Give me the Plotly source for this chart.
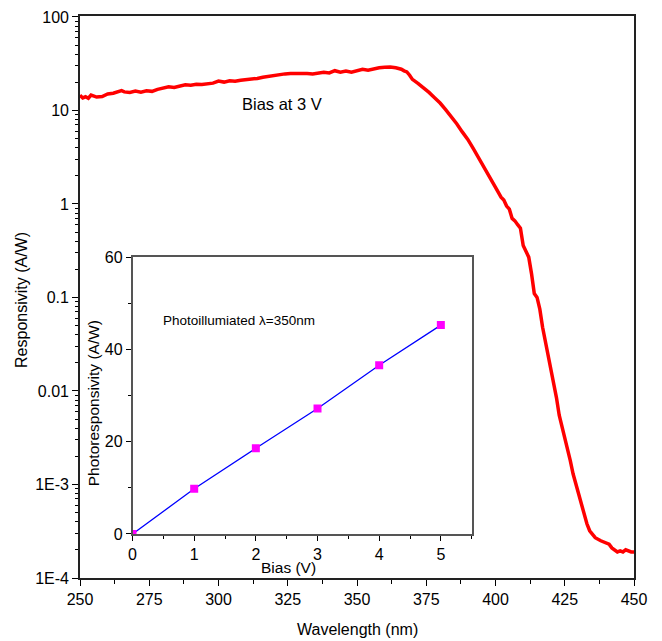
import plotly.graph_objects as go

# Main spectrum: wavelength (nm) vs responsivity (A/W), bias 3 V
wavelength = [250, 251, 252, 253, 254, 255, 256, 258, 260, 262, 264, 265, 266, 268, 270,
              272, 274, 276, 278, 280, 282, 284, 286, 288, 290, 292, 294, 296, 298, 300,
              302, 304, 306, 308, 310, 312, 314, 316, 318, 320, 322, 324, 326, 328, 330,
              332, 334, 336, 338, 340, 342, 344, 346, 348, 350, 352, 354, 356, 358, 360,
              362, 364, 366, 367, 368, 369, 370, 372, 374, 376, 378, 380, 382, 384, 386,
              388, 390, 392, 394, 396, 398, 400, 402, 403, 404, 405, 406, 407, 408, 409,
              410, 411, 412, 413, 414, 415, 416, 417, 418, 419, 420, 421, 422, 423, 424,
              425, 426, 427, 428, 429, 430, 431, 432, 433, 434, 435, 436, 438, 440, 441,
              442, 443, 444, 445, 446, 447, 448, 449, 450]
responsivity = [14.5, 13.6, 14.0, 13.5, 14.6, 14.2, 13.9, 14.1, 15.0, 15.3, 15.9, 16.3, 15.8, 15.6, 16.1,
                15.7, 16.2, 16.0, 16.8, 17.2, 17.9, 17.6, 18.3, 18.8, 18.6, 19.0, 18.9, 19.2, 19.6, 20.6,
                20.1, 20.8, 20.5, 21.0, 21.2, 21.6, 22.0, 22.6, 23.2, 23.8, 24.2, 24.6, 24.8, 25.0, 25.0,
                24.9, 24.6, 25.2, 25.6, 25.2, 26.6, 25.7, 26.4, 25.6, 26.8, 27.5, 26.9, 27.8, 28.6, 28.9,
                29.1, 28.6, 27.6, 26.5, 25.8, 23.8, 21.5, 19.5, 17.6, 15.6, 13.7, 12.0, 10.2, 8.6, 7.2,
                5.9, 4.9, 3.9, 3.1, 2.45, 1.9, 1.5, 1.18, 1.1, 0.95, 0.88, 0.70, 0.66, 0.60, 0.55,
                0.36, 0.31, 0.27, 0.18, 0.11, 0.10, 0.075, 0.048, 0.034, 0.025, 0.016, 0.012, 0.0085, 0.0055, 0.0042,
                0.0033, 0.0025, 0.0018, 0.0013, 0.0010, 0.00078, 0.00060, 0.00048, 0.00038, 0.00032, 0.00029, 0.00027, 0.00025, 0.00024, 0.00023,
                0.00021, 0.00020, 0.00019, 0.000195, 0.00019, 0.00020, 0.000195, 0.00019, 0.00019]

# Inset: bias (V) vs photoresponsivity (A/W) at 350 nm
bias = [0, 1, 2, 3, 4, 5]
photoresp = [0, 9.8, 18.6, 27.2, 36.6, 45.3]

main_xticks = [250, 275, 300, 325, 350, 375, 400, 425, 450]
main_yticks = [1e-4, 1e-3, 1e-2, 1e-1, 1, 10, 100]
main_yticktext = ["1E-4", "1E-3", "0.01", "0.1", "1", "10", "100"]
minor_yticks = [k * 10.0 ** e for e in range(-4, 2) for k in range(2, 10)]
inset_xticks = [0, 1, 2, 3, 4, 5]
inset_yticks = [0, 20, 40, 60]

FONT = "Arial, Liberation Sans, sans-serif"

fig = go.Figure()
fig.add_trace(go.Scatter(x=wavelength, y=responsivity, mode="lines",
                         line=dict(color="#FF0000", width=3.5), xaxis="x", yaxis="y",
                         showlegend=False))
fig.add_trace(go.Scatter(x=bias, y=photoresp, mode="lines+markers",
                         line=dict(color="#0000FF", width=1.3),
                         marker=dict(symbol="square", color="#FF00FF", size=8),
                         xaxis="x2", yaxis="y2", showlegend=False))

fig.update_layout(
    width=662, height=641,
    margin=dict(l=72, r=36, t=8, b=71),
    paper_bgcolor="white", plot_bgcolor="white",
    font=dict(family=FONT, color="black", size=16),
    xaxis=dict(range=[250, 450], tickmode="array", tickvals=main_xticks,
               ticks="outside", ticklen=6, tickwidth=1.3, tickcolor="black",
               minor=dict(ticks="outside", dtick=12.5, tick0=250, ticklen=4, tickcolor="black"),
               showline=True, linecolor="#222222", linewidth=1.7, mirror=True,
               showgrid=False, zeroline=False, tickfont=dict(size=16), automargin=False),
    yaxis=dict(type="log", range=[-4, 2.01], tickmode="array", tickvals=main_yticks,
               ticktext=main_yticktext, ticks="outside", ticklen=6, tickwidth=1.3,
               tickcolor="black",
               minor=dict(ticks="outside", tickmode="array", tickvals=minor_yticks,
                          ticklen=3.5, tickcolor="black"),
               showline=True, linecolor="#222222", linewidth=1.7, mirror=True,
               showgrid=False, zeroline=False, tickfont=dict(size=16), automargin=False),
    xaxis2=dict(domain=[0.0948, 0.707], anchor="y2", range=[0, 5.5],
                tickmode="array", tickvals=inset_xticks,
                ticks="outside", ticklen=5, tickcolor="black",
                minor=dict(ticks="outside", dtick=0.5, tick0=0, ticklen=3, tickcolor="black"),
                showline=True, linecolor="#555555", linewidth=1.5, mirror=True,
                showgrid=False, zeroline=False, tickfont=dict(size=16), automargin=False),
    yaxis2=dict(domain=[0.0783, 0.5706], anchor="x2", range=[0, 60],
                tickmode="array", tickvals=inset_yticks,
                ticks="outside", ticklen=5, tickcolor="black",
                minor=dict(ticks="outside", dtick=10, tick0=0, ticklen=3, tickcolor="black"),
                showline=True, linecolor="#555555", linewidth=1.5, mirror=True,
                showgrid=False, zeroline=False, tickfont=dict(size=16), automargin=False),
    annotations=[
        dict(text="Wavelength (nm)", xref="paper", yref="paper", x=0.5, y=-0.0925,
             showarrow=False, font=dict(size=16), xanchor="center", yanchor="middle"),
        dict(text="Responsivity (A/W)", xref="paper", yref="paper", x=-0.1047, y=0.4947,
             showarrow=False, font=dict(size=16), textangle=-90,
             xanchor="center", yanchor="middle"),
        dict(text="Bias (V)", xref="x2", yref="paper", x=2.53, y=0.0178,
             showarrow=False, font=dict(size=15.5), xanchor="center", yanchor="middle"),
        dict(text="Photoresponsivity (A/W)", xref="paper", yref="paper", x=0.0235, y=0.311,
             showarrow=False, font=dict(size=15.5), textangle=-90,
             xanchor="center", yanchor="middle"),
        dict(text="Bias at 3 V", xref="x", yref="y", x=323, y=1.068,
             showarrow=False, font=dict(size=16.5), xanchor="center", yanchor="middle"),
        dict(text="Photoillumiated \u03bb=350nm", xref="x2", yref="y2", x=1.73, y=46.2,
             showarrow=False, font=dict(size=13.5), xanchor="center", yanchor="middle"),
    ],
)

fig.write_html("out.html")
